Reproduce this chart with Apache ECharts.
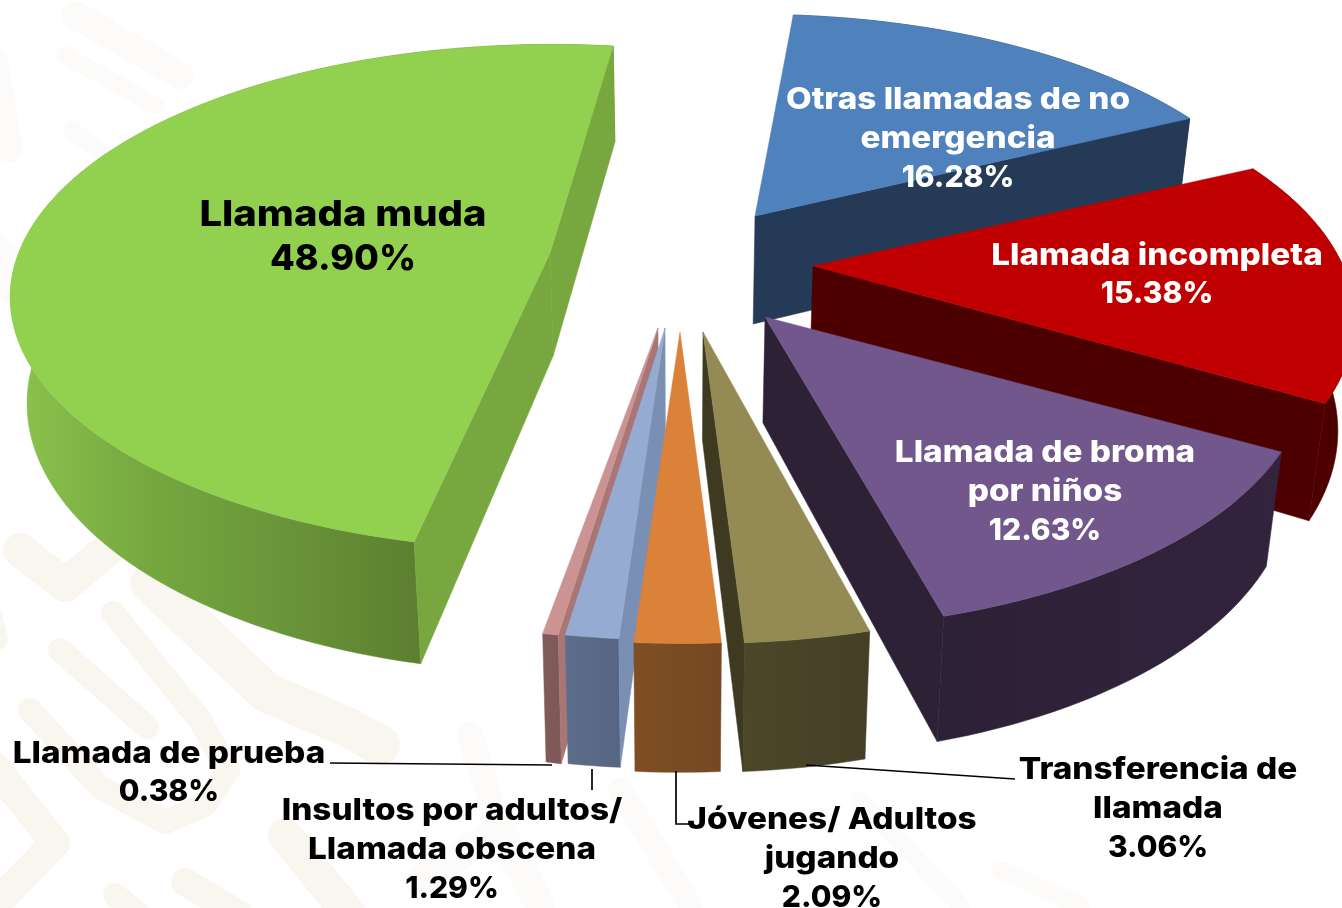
<!DOCTYPE html>
<html>
<head>
<meta charset="utf-8">
<style>html,body{margin:0;padding:0;background:#fff}#c{width:1342px;height:908px}</style>
<script src="https://cdn.jsdelivr.net/npm/echarts@6/dist/echarts.min.js"></script>
</head>
<body>
<div id="c"></div>
<script>
// ---- data (order runs clockwise from the top of the pie) ----
const categories = ['Otras llamadas de no\nemergencia','Llamada incompleta','Llamada de broma\npor niños','Transferencia de\nllamada','Jóvenes/ Adultos\njugando','Insultos por adultos/\nLlamada obscena','Llamada de prueba','Llamada muda'];
const values = [16.28,15.38,12.63,3.06,2.09,1.29,0.38,48.90];

// ---- styling and layout ----
const topColors  = ['#4F81BD','#C00000','#72578C','#948A54','#DA813A','#95ABD2','#CC9393','#92D050'];
const wallColors = ['#243A56','#4C0000','#2D2136','#3E3A22','#7D4D23','#7A8FB4','#A97676','#78A73F'];
const outerStops = [
  ['#243A56','#243A56'],['#4C0000','#4C0000'],['#2D2136','#33233D'],['#4C4729','#453F27'],
  ['#7F4E24','#764822'],['#5D6E8C','#566682'],['#835A5A','#7E5858'],['#8CC44E','#76A83F','#6B953A','#5C8030']
];
const labelColors = ['#fff','#fff','#fff','#000','#000','#000','#000','#000'];
const explode = [[75,-111],[133,-64],[86,-11],[23,2],[0,2],[-15,-2],[-22,-2],[-128,-85]];
const apexNudge = [[0,-3],[0,0],[-1,-2],[0,0],[0,0],[0,0],[0,0],[-2,8]];
const rotate  = [-1,0,-1,0,0,0,0,2];
const ryScale = [1,1,1,1,1,1,1,0.98];
const depthScale = [1,1,0.98,1,1,1,1,0.95];
const drawOrder = [7,0,1,2,6,5,4,3];
const labelPos = [[958,139],[1157,275],[1045,492],[1158,809],[832,859],[452,850],[169,773],[343,237]];
const labelFont = [30,30,30,30,30,30,30,36];
const labelLine = [39,38,39,39,39,39,38,44];
const nameStretch = 1.11;
const leaders = [null,null,null,[[806,765],[1015,779]],[[676,771],[676,824],[690,824]],[[592,769],[592,790]],[[330,763],[552,765]],null];

const PIE = {cx:680, cy:330, rx:530, ry:247, k:0.207, start:6, vanish:680, shrink:0.975, depth:108, depthFront:80, depthBack:40};

function angles(){
  const total = values.reduce((a,b)=>a+b,0);
  let a = PIE.start;
  return values.map(v => { const s = a; a += v/total*360; return [s,a]; });
}
const ANG = angles();
function proj(i,deg){
  const t = (deg+rotate[i])*Math.PI/180, X=Math.sin(t), Y=Math.cos(t), p=1/(1+PIE.k*Y);
  return {x:PIE.cx+explode[i][0]+PIE.rx*X*p, y:PIE.cy+explode[i][1]-PIE.ry*ryScale[i]*Y*p, p, Y, i};
}
function apex(i){ return {x:PIE.cx+explode[i][0]+apexNudge[i][0], y:PIE.cy+explode[i][1]+apexNudge[i][1], p:1, Y:0, i}; }
function low(q){
  const d=(PIE.depth+(q.p-1)*(q.p>1?PIE.depthFront:PIE.depthBack))*depthScale[q.i];
  return [PIE.vanish+(q.x-PIE.vanish)*PIE.shrink, q.y+d];
}
function up(q){ return [q.x,q.y]; }
function poly(points,fill){ return {type:'polygon',shape:{points},style:{fill,stroke:fill,lineWidth:0.5}}; }
// a radial wall shows only when moving down from its edge leaves the top face
function wallShows(A,P,mid){
  const ex=P.x-A.x, ey=P.y-A.y;
  const side=ex*(mid.y-A.y)-ey*(mid.x-A.x);
  return ex*side<0;
}

function renderSlice(params){
  const i = drawOrder[params.dataIndex];
  const [a0,a1] = ANG[i];
  const arc=[]; const n=Math.max(6,Math.ceil((a1-a0)/1.5));
  for(let j=0;j<=n;j++) arc.push(proj(i,a0+(a1-a0)*j/n));
  const A=apex(i), first=arc[0], last=arc[arc.length-1], mid=arc[Math.floor(n/2)];
  const front=arc.filter(q=>q.Y<0), range=front.length>1?front:arc;
  const minX=Math.min(...range.map(q=>q.x)), maxX=Math.max(...range.map(q=>q.x));
  const stops=outerStops[i].map((c,j,l)=>({offset:j/(l.length-1),color:c}));
  const grad=new echarts.graphic.LinearGradient(minX,0,maxX,0,stops,true);
  const children=[poly(arc.map(up).concat(arc.slice().reverse().map(low)),grad)];
  if(wallShows(A,first,mid)) children.push(poly([up(A),low(A),low(first),up(first)],wallColors[i]));
  if(wallShows(A,last,mid))  children.push(poly([up(A),low(A),low(last),up(last)],wallColors[i]));
  children.push(poly([up(A)].concat(arc.map(up)),topColors[i]));
  return {type:'group',children};
}
function labelStyle(i,text){
  return {text,fill:labelColors[i],fontSize:labelFont[i],fontWeight:800,fontFamily:'Inter',
    align:'center',verticalAlign:'middle',lineHeight:labelLine[i]};
}
function renderLabel(params){
  const i=params.dataIndex, children=[];
  if(leaders[i]) children.push({type:'polyline',shape:{points:leaders[i]},style:{stroke:'#000',lineWidth:1.7,fill:null}});
  const name=categories[i], n=name.split('\n').length, lh=labelLine[i], [x,y]=labelPos[i];
  children.push({type:'text',x,y:y-lh/2,scaleX:nameStretch,style:labelStyle(i,name)});
  children.push({type:'text',x,y:y+n*lh/2,style:labelStyle(i,values[i].toFixed(2)+'%')});
  return {type:'group',children};
}

// faint watermark in the page background
const wmStrong = [
  {w:24,p:[[60,650],[147,727]]},
  {w:24,p:[[113,613],[200,720],[228,770],[205,805],[165,822]]},
  {w:24,p:[[30,710],[100,787],[165,822]]},
  {w:30,p:[[-5,767],[55,843],[-5,905]]},
  {w:40,p:[[150,583],[267,693],[347,727],[380,745]]},
  {w:34,p:[[20,550],[65,585],[107,550]]},
  {w:34,p:[[285,835],[350,915]]},
  {w:28,p:[[185,882],[240,915]]},
  {w:24,p:[[115,895],[140,915]]},
  {w:20,p:[[-8,615],[-2,640]]}
];
const wmFaint = [
  {w:28,p:[[75,15],[180,75]]},
  {w:18,p:[[65,55],[155,105]]},
  {w:18,p:[[72,130],[110,160]]},
  {w:26,p:[[-5,60],[10,150]]},
  {w:40,p:[[-10,250],[20,290]]},
  {w:26,p:[[470,735],[500,830]]},
  {w:30,p:[[420,880],[500,830],[540,905]]},
  {w:24,p:[[620,790],[690,905]]},
  {w:18,p:[[860,800],[960,905]]},
  {w:18,p:[[1000,870],[1080,905]]}
];
const wmEl = (list,color)=>list.map(o=>({type:'polyline',silent:true,z:-10,shape:{points:o.p},style:{stroke:color,lineWidth:o.w,lineCap:'round',lineJoin:'round',fill:null}}));

const chart = echarts.init(document.getElementById('c'),null,{renderer:'canvas'});
chart.setOption({
  animation:false,
  backgroundColor:'#fff',
  graphic:{elements:wmEl(wmFaint,'#FCFBF9').concat(wmEl(wmStrong,'#F9F6F0'))},
  series:[
    {type:'custom',coordinateSystem:'none',z:2,silent:true,renderItem:renderSlice,data:drawOrder.map(i=>values[i])},
    {type:'custom',coordinateSystem:'none',z:3,silent:true,renderItem:renderLabel,data:values}
  ]
});
</script>
</body>
</html>
